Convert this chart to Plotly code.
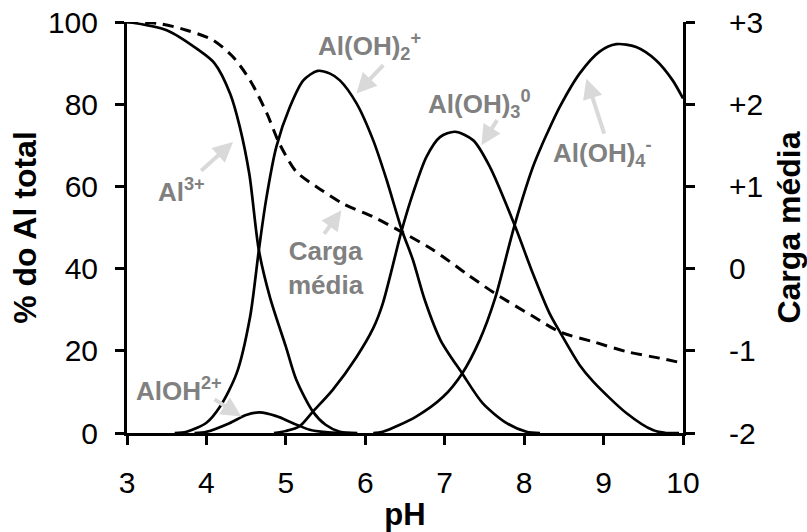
import plotly.graph_objects as go

# fraction of total Al (%) for each species
ph_al3 = [3.0, 3.5, 3.9, 4.1, 4.3, 4.42, 4.54, 4.66, 4.8, 5.0, 5.13, 5.34, 5.5, 5.68, 5.9]
al3 = [100, 98, 93.2, 90, 82.5, 74.5, 63, 44.5, 33, 21, 13, 5.2, 2, 0.3, 0]

ph_aloh = [3.85, 4.0, 4.29, 4.5, 4.67, 4.88, 5.09, 5.3, 5.5, 5.7]
aloh = [0, 0.3, 2.4, 4.4, 5.0, 4.1, 2.4, 0.8, 0.2, 0]

ph_aloh2 = [3.6, 3.75, 4.0, 4.17, 4.38, 4.55, 4.66, 4.75, 4.88, 5.05, 5.22, 5.4, 5.55, 5.68,
            5.89, 6.1, 6.27, 6.46, 6.6, 6.75, 6.95, 7.22, 7.48, 7.78, 8.03, 8.2]
aloh2 = [0, 0.3, 2.5, 6.4, 14.5, 28.3, 44.5, 56.6, 69.6, 79.3, 85.8, 88.1, 87.5, 85.8,
         80.2, 71.2, 61.5, 49.4, 42.1, 32.3, 22.5, 14.5, 7.2, 2.4, 0.3, 0]

ph_aloh3 = [4.85, 5.0, 5.17, 5.34, 5.59, 5.89, 6.1, 6.22, 6.46, 6.6, 6.77, 6.94, 7.13, 7.36,
            7.57, 7.88, 8.11, 8.32, 8.45, 8.7, 8.87, 9.29, 9.62, 9.79, 9.95]
aloh3 = [0, 0.5, 1.6, 5.2, 10.5, 18.5, 25.5, 31.5, 49.4, 58.3, 67.2, 72.0, 73.3, 71.2,
         64.7, 50.6, 38.8, 29.1, 24.6, 16.5, 12.5, 4.8, 0.7, 0, 0]

ph_aloh4 = [6.1, 6.22, 6.64, 6.98, 7.22, 7.44, 7.63, 7.88, 8.11, 8.2, 8.28, 8.45, 8.7, 8.95,
            9.16, 9.41, 9.66, 9.87, 10.0]
aloh4 = [0, 0.3, 4.0, 8.8, 14.5, 22.6, 32.5, 50.6, 64.7, 69, 72.5, 79.4, 87.5, 92.8,
         94.6, 93.9, 90.7, 85.8, 81.4]

# average charge (right axis)
ph_carga = [3.0, 3.41, 3.75, 4.08, 4.33, 4.55, 4.76, 4.92, 5.13, 5.38, 5.72, 6.1, 6.45, 6.85,
            7.27, 7.63, 8.11, 8.45, 8.87, 9.29, 9.71, 10.0]
carga = [3.0, 2.98, 2.9, 2.78, 2.58, 2.29, 1.89, 1.52, 1.18, 1.0, 0.79, 0.63, 0.45, 0.23,
         -0.06, -0.30, -0.58, -0.77, -0.89, -1.01, -1.09, -1.15]

ph_ticks = [3, 4, 5, 6, 7, 8, 9, 10]
carga_ticks = [-2, -1, 0, 1, 2, 3]
carga_labels = ['-2', '-1', '0', '+1', '+2', '+3']

FONT = 'Liberation Sans, Arial, sans-serif'
GRAY = 'rgb(128,128,128)'
ARROW = 'rgb(217,217,217)'

fig = go.Figure()

species = [(ph_al3, al3), (ph_aloh, aloh), (ph_aloh2, aloh2), (ph_aloh3, aloh3), (ph_aloh4, aloh4)]
for xs, ys in species:
    fig.add_trace(go.Scatter(x=xs, y=ys, mode='lines',
                             line=dict(color='black', width=2.7, shape='spline', smoothing=0.8)))

fig.add_trace(go.Scatter(x=ph_carga, y=carga, mode='lines', yaxis='y2',
                         line=dict(color='black', width=3, dash='11px,7px',
                                   shape='spline', smoothing=0.8)))

axis_style = dict(showline=True, linecolor='black', linewidth=3, ticks='outside',
                  ticklen=9, tickwidth=3, tickcolor='black', showgrid=False, zeroline=False,
                  automargin=False,
                  tickfont=dict(size=30, color='black', family=FONT))

fig.update_layout(
    width=807, height=532,
    margin=dict(l=127, r=124, t=22, b=99),
    paper_bgcolor='white', plot_bgcolor='white',
    showlegend=False,
    font=dict(family=FONT, color='black'),
    xaxis=dict(range=[3, 10], tickvals=ph_ticks, ticklabelstandoff=12,
               title=dict(text='<b>pH</b>', font=dict(size=31), standoff=8),
               **axis_style),
    yaxis=dict(range=[0, 100], dtick=20, ticklabelstandoff=11,
               title=dict(text='<b>% do Al total</b>', font=dict(size=32), standoff=2),
               **axis_style),
    yaxis2=dict(range=[-2, 3], tickvals=carga_ticks, ticktext=carga_labels,
                overlaying='y', side='right', anchor='x', ticklabelstandoff=28,
                title=dict(text='<b>Carga média</b>', font=dict(size=32), standoff=17),
                **axis_style),
)

# arrows: tip (x, y) and tail (ax, ay), in data units
arrows = [
    (4.335, 70.8, 3.915, 63.5),
    (4.44, 4.0, 4.083, 8.4),
    (5.888, 82.6, 6.244, 89.9),
    (7.462, 70.0, 7.671, 76.5),
    (8.784, 86.2, 9.014, 72.5),
    (5.70, 54.2, 5.468, 48.1),
]
for x, y, tx, ty in arrows:
    fig.add_annotation(x=x, y=y, ax=tx, ay=ty, xref='x', yref='y', axref='x', ayref='y',
                       text='', showarrow=True, arrowhead=2, arrowsize=1, arrowwidth=4,
                       arrowcolor=ARROW)

labels = [
    (3.69, 59.1, 'Al<sup>3+</sup>'),
    (3.66, 10.7, 'AlOH<sup>2+</sup>'),
    (6.05, 94.1, 'Al(OH)<sub>2</sub><sup>+</sup>'),
    (7.44, 80.0, 'Al(OH)<sub>3</sub><sup>0</sup>'),
    (8.99, 68.1, 'Al(OH)<sub>4</sub><sup>-</sup>'),
    (5.5, 40.1, 'Carga<br>média'),
]
for x, y, t in labels:
    fig.add_annotation(x=x, y=y, xref='x', yref='y', text='<b>' + t + '</b>', showarrow=False,
                       font=dict(size=26, color=GRAY, family=FONT))

fig.write_html("out.html", config={'displayModeBar': False},
               post_script="document.body.style.margin='0';")
